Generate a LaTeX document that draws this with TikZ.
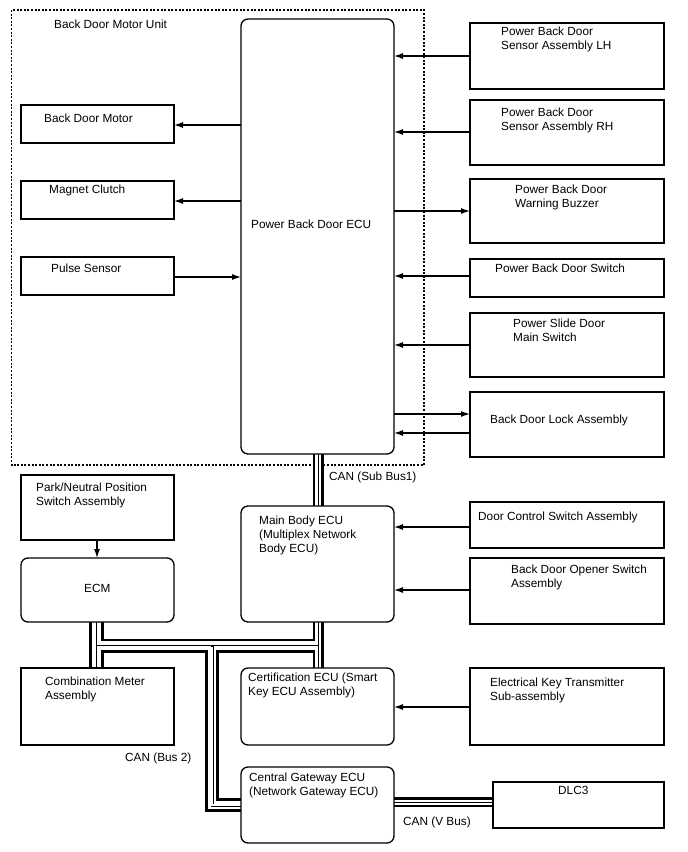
\documentclass[tikz,border=0pt]{standalone}
\usepackage{fontspec}
\setmainfont{Liberation Sans}
\usetikzlibrary{arrows.meta,backgrounds}
\begin{document}
\begin{tikzpicture}[x=1pt,y=-1pt,
  box/.style={draw,line width=1.3pt,fill=white,inner sep=0pt,outer sep=0pt,anchor=north west},
  rbox/.style={box,rounded corners=7pt},
  txt/.style={inner sep=0pt,anchor=north west,align=left,font=\fontsize{11.8}{14}\selectfont},
  sig/.style={line width=1.2pt,-{Latex[length=9pt,width=6pt]}},
  unitframe/.style={line width=1.1pt,dash pattern=on 2pt off 1.6pt},
  wallA/.style={line width=14pt},
  coreA/.style={white,line width=8.5pt},
  wallB/.style={line width=11pt},
  coreB/.style={white,line width=5.5pt},
  wallC/.style={line width=10pt},
  coreC/.style={white,line width=5pt},
  mid/.style={line width=0.9pt}
]
\useasboundingbox (0,0) rectangle (688,852);

% ---------- boxes ----------
\node[rbox,minimum width=153pt,minimum height=435pt] (ecu) at (241,19) {};
\node[box,minimum width=153pt,minimum height=38pt] (bdm) at (21,105) {};
\node[box,minimum width=153pt,minimum height=38pt] (mc) at (21,181) {};
\node[box,minimum width=153pt,minimum height=38pt] (ps) at (21,257) {};

\node[box,minimum width=194pt,minimum height=66pt] (lh) at (470,23) {};
\node[box,minimum width=194pt,minimum height=65pt] (rh) at (470,100) {};
\node[box,minimum width=194pt,minimum height=64pt] (bz) at (470,179) {};
\node[box,minimum width=194pt,minimum height=38pt] (sw) at (470,259) {};
\node[box,minimum width=194pt,minimum height=64pt] (sl) at (470,313) {};
\node[box,minimum width=194pt,minimum height=65pt] (lk) at (470,392) {};

\node[box,minimum width=153pt,minimum height=65pt] (pn) at (21,475) {};
\node[rbox,minimum width=153pt,minimum height=64pt] (ecm) at (21,558) {};
\node[rbox,minimum width=153pt,minimum height=116pt] (mb) at (241,506) {};
\node[box,minimum width=194pt,minimum height=46pt] (dc) at (470,502) {};
\node[box,minimum width=194pt,minimum height=66pt] (op) at (470,558) {};

\node[box,minimum width=153pt,minimum height=77pt] (cm) at (21,668) {};
\node[rbox,minimum width=153pt,minimum height=77pt] (ce) at (241,668) {};
\node[box,minimum width=194pt,minimum height=77pt] (ek) at (470,668) {};
\node[rbox,minimum width=153pt,minimum height=76pt] (gw) at (241,767) {};
\node[box,minimum width=171pt,minimum height=46pt] (dlc) at (493,782) {};

% ---------- texts ----------
\node[txt] (t-unit) at (54,20) {Back Door Motor Unit};
\node[txt] (t-ecu) at (251,220) {Power Back Door ECU};
\node[txt] (t-bdm) at (44,114) {Back Door Motor};
\node[txt] (t-mc) at (49,185) {Magnet Clutch};
\node[txt] (t-ps) at (51,263.5) {Pulse Sensor};
\node[txt] (t-lh) at (501,27) {Power Back Door\\Sensor Assembly LH};
\node[txt] (t-rh) at (501,108) {Power Back Door\\Sensor Assembly RH};
\node[txt] (t-bz) at (515,185) {Power Back Door\\Warning Buzzer};
\node[txt] (t-sw) at (495,264) {Power Back Door Switch};
\node[txt] (t-sl) at (513,319) {Power Slide Door\\Main Switch};
\node[txt] (t-lk) at (490,415) {Back Door Lock Assembly};
\node[txt] (t-pn) at (36,483) {Park/Neutral Position\\Switch Assembly};
\node[txt] (t-ecm) at (84,584) {ECM};
\node[txt] (t-mb) at (259,516) {Main Body ECU\\(Multiplex Network\\Body ECU)};
\node[txt] (t-dc) at (478,512) {Door Control Switch Assembly};
\node[txt] (t-op) at (511,565) {Back Door Opener Switch\\Assembly};
\node[txt] (t-cm) at (45,677) {Combination Meter\\Assembly};
\node[txt] (t-ce) at (248,672.5) {Certification ECU (Smart\\Key ECU Assembly)};
\node[txt] (t-ek) at (490,678) {Electrical Key Transmitter\\Sub-assembly};
\node[txt] (t-gw) at (249,772.5) {Central Gateway ECU\\(Network Gateway ECU)};
\node[txt] (t-dlc) at (558,786) {DLC3};
\node[txt] (t-sub) at (329,472) {CAN (Sub Bus1)};
\node[txt] (t-b2) at (125,753) {CAN (Bus 2)};
\node[txt] (t-vb) at (403,817) {CAN (V Bus)};

% ---------- signal arrows ----------
\draw[sig] (ecu.west |- 0,125) -- (bdm.east |- 0,125);
\draw[sig] (ecu.west |- 0,201) -- (mc.east |- 0,201);
\draw[sig] (ps.east |- 0,277) -- (ecu.west |- 0,277);
\draw[sig] (lh.west |- 0,56) -- (ecu.east |- 0,56);
\draw[sig] (rh.west |- 0,132) -- (ecu.east |- 0,132);
\draw[sig] (ecu.east |- 0,211) -- (bz.west |- 0,211);
\draw[sig] (sw.west |- 0,276) -- (ecu.east |- 0,276);
\draw[sig] (sl.west |- 0,345) -- (ecu.east |- 0,345);
\draw[sig] (ecu.east |- 0,414) -- (lk.west |- 0,414);
\draw[sig] (lk.west |- 0,433) -- (ecu.east |- 0,433);
\draw[sig] (pn.south -| 97,0) -- (ecm.north -| 97,0);
\draw[sig] (dc.west |- 0,527) -- (mb.east |- 0,527);
\draw[sig] (op.west |- 0,590) -- (mb.east |- 0,590);
\draw[sig] (ek.west |- 0,707) -- (ce.east |- 0,707);

% ---------- bus coordinates ----------
\coordinate (e1) at (ecm.south -| 96.5,0);
\coordinate (e2) at (cm.north -| 96.5,0);
\coordinate (j1) at (96.5,645.5);
\coordinate (j2) at (318,645.5);
\coordinate (m1) at (mb.south -| 318,0);
\coordinate (m2) at (ce.north -| 318,0);
\coordinate (j3) at (212,645.5);
\coordinate (k1) at (212,805);
\coordinate (g1) at (gw.west |- 0,805);
\coordinate (s1) at (ecu.south -| 318,0);
\coordinate (s2) at (mb.north -| 318,0);
\coordinate (v1) at (gw.east |- 0,802);
\coordinate (v2) at (dlc.west |- 0,802);

\begin{pgfonlayer}{background}
\draw[unitframe] (11.5,10) rectangle (424,465);
% walls
\draw[line width=15pt] (e1) -- (e2);
\draw[wallA] (j1) -- (j2);
\draw[wallB] (m1) -- (m2);
\draw[wallA] (j3) -- (k1) -- (g1);
\draw[wallB] (s1) -- (s2);
\draw[wallC] (v1) -- (v2);
% hollow cores
\draw[white,line width=9pt] (e1) -- (e2);
\draw[coreA] (j1) -- (j2);
\draw[coreB] (m1) -- (m2);
\draw[coreA] (j3) -- (k1) -- (g1);
\draw[coreB] (s1) -- (s2);
\draw[coreC] (v1) -- (v2);
% centre wires
\draw[mid] (e1) -- (e2);
\draw[mid] (j1) -- (j2);
\draw[mid] (m1) -- (m2);
\draw[line width=3pt] (j3) -- (k1) -- (g1);
\draw[white,line width=1.2pt] (212,647) -- (k1) -- (g1);
\draw[mid] (s1) -- (s2);
\draw[mid] (v1) -- (v2);
\end{pgfonlayer}
\end{tikzpicture}
\end{document}
